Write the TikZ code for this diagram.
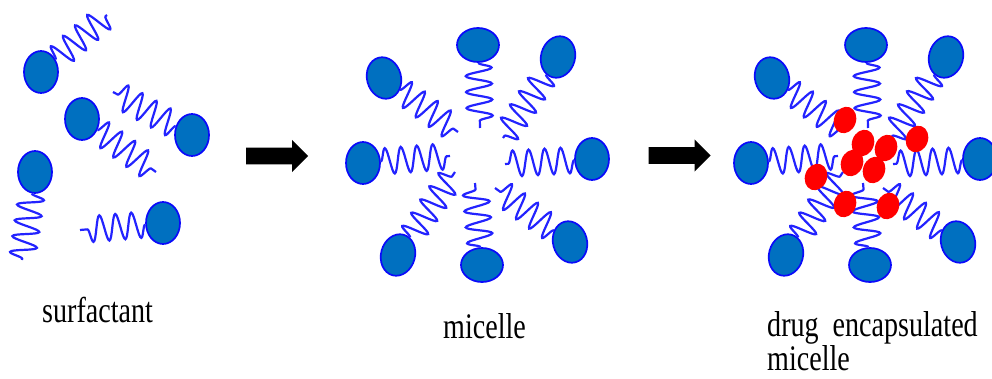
\documentclass[tikz,border=0pt]{standalone}
\usepackage{fontspec}
\usepackage{tikz}
\usetikzlibrary{shapes.geometric, shapes.arrows, decorations.pathmorphing}

\newfontfamily\lblfont[FakeStretch=0.78]{Liberation Serif}

\definecolor{headfill}{RGB}{0,112,192}
\definecolor{headline}{RGB}{10,10,250}
\definecolor{tailblue}{RGB}{35,35,255}
\definecolor{drugred}{RGB}{255,0,0}

\tikzset{
	head/.style={ellipse, draw=headline, fill=headfill, line width=1.7pt,
			minimum width=34pt, minimum height=42pt, inner sep=0pt},
	tail/.style={draw=tailblue, line width=2.2pt,
			decoration={snake, segment length=16pt, amplitude=13pt}, decorate},
	drug/.style={ellipse, fill=drugred, minimum width=22pt, minimum height=27pt,
			inner sep=0pt, rotate=-20},
	bigarrow/.style={single arrow, fill=black, inner sep=7.5pt,
			minimum width=32pt, minimum height=62pt, single arrow tip angle=90},
	lbl/.style={font=\lblfont\fontsize{36}{32}\selectfont, inner sep=0pt, align=left}
}

\begin{document}
\begin{tikzpicture}[x=1pt, y=1pt]

		\useasboundingbox (0,0) rectangle (992,378);

		% Free surfactants: head, then the tail's free end
		\node[head] (S1) at (41, 306) {};
		\coordinate (S1t) at (107, 363);
		\node[head] (S2) at (82, 259) {};
		\coordinate (S2t) at (156, 206);
		\node[head] (S3) at (192, 243) {};
		\coordinate (S3t) at (113, 286);
		\node[head] (S4) at (35, 206) {};
		\coordinate (S4t) at (22, 118);
		\node[head] (S5) at (163, 155) {};
		\coordinate (S5t) at (80, 148);

		\foreach \s in {S1,S2,S3,S4,S5} {
				\draw[tail] (\s) -- (\s t);
			}

		% Micelles: m = empty, d = drug loaded (same layout, shifted right)
		\foreach \p/\dx in {m/0, d/388} {
				\foreach \n/\hx/\hy/\r/\tx/\ty in {T/478/333/90/480/250, TR/558/321/-15/503/240,
						R/592/219/0/505/214, BR/570/136/15/495/190, B/482/113/90/475/195,
						BL/398/123/-15/455/206, L/363/215/0/450/222, TL/384/300/15/458/246} {
						\node[head, rotate=\r] (\p\n) at (\hx+\dx, \hy) {};
						\coordinate (\p\n t) at (\tx+\dx, \ty);
						\draw[tail] (\p\n) -- (\p\n t);
					}
			}

		% Drug particles in the core
		\node[drug] (D1) at (845, 258) {};
		\node[drug] (D2) at (863, 235) {};
		\node[drug] (D3) at (852, 215) {};
		\node[drug] (D4) at (886, 230) {};
		\node[drug] (D5) at (874, 208) {};
		\node[drug] (D6) at (917, 239) {};
		\node[drug] (D7) at (816, 201) {};
		\node[drug] (D8) at (845, 174) {};
		\node[drug] (D9) at (888, 172) {};

		% Step arrows
		\node[bigarrow] (A1) at (273, 222) {};
		\node[bigarrow] (A2) at (675.5, 222.5) {};

		% Labels
		\node[lbl, anchor=base west] (Lsurf) at (42, 56) {surfactant};
		\node[lbl, anchor=base west] (Lmic) at (443, 40) {micelle};
		\node[lbl, anchor=base west] (Ldrug) at (767, 8) {drug\ \ encapsulated\\micelle};

	\end{tikzpicture}
\end{document}
